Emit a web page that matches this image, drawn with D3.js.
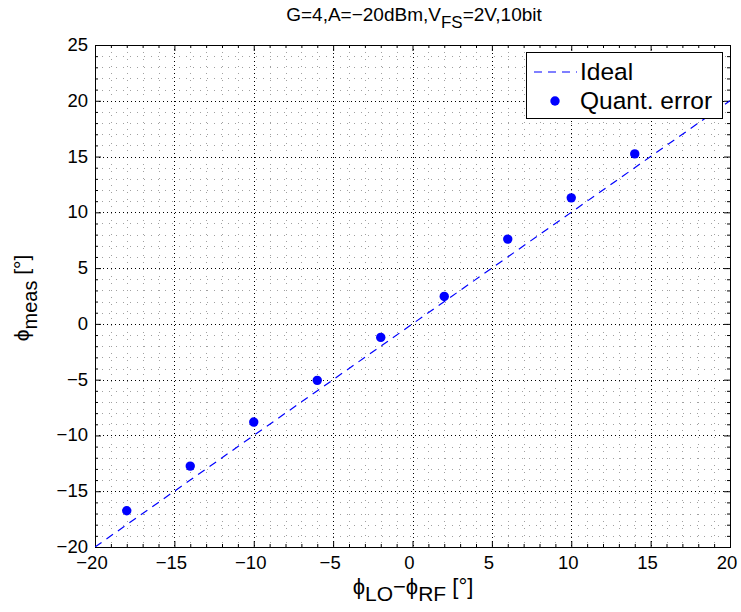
<!DOCTYPE html>
<html>
<head>
<meta charset="utf-8">
<script src="https://cdn.jsdelivr.net/npm/d3@7"></script>
<style>
  body { margin: 0; background: #fff; }
  text { font-family: "Liberation Sans", Arial, sans-serif; fill: #000; }
</style>
</head>
<body>
<div id="chart"></div>
<script>
// data
const xTicks = [-20, -15, -10, -5, 0, 5, 10, 15, 20];
const yTicks = [-20, -15, -10, -5, 0, 5, 10, 15, 20, 25];
const phaseIn = [-18, -14, -10, -6, -2, 2, 6, 10, 14];
const phaseMeas = [-16.75, -12.75, -8.8, -5.06, -1.21, 2.46, 7.6, 11.3, 15.24];
const idealX = [-20, 20];
const idealY = [-20, 20];

const width = 741, height = 612;
const pL = 95, pR = 730, pT = 45, pB = 547;

const svg = d3.select('#chart').append('svg')
    .attr('width', width)
    .attr('height', height);

const x = d3.scaleLinear().domain([-20, 20]).range([pL, pR]);
const y = d3.scaleLinear().domain([-20, 25]).range([pB, pT]);

const minorX = d3.range(-20, 21, 1).filter(v => v % 5 !== 0);
const minorY = d3.range(-20, 26, 1).filter(v => v % 5 !== 0);

// grid: dotted, grey for minor, black for major
function gridLines(vals, vertical, color, dash) {
  svg.append('g').selectAll('line').data(vals).enter().append('line')
    .attr('x1', d => vertical ? Math.round(x(d)) + 0.5 : pL)
    .attr('x2', d => vertical ? Math.round(x(d)) + 0.5 : pR)
    .attr('y1', d => vertical ? pT : Math.round(y(d)) + 0.5)
    .attr('y2', d => vertical ? pB : Math.round(y(d)) + 0.5)
    .attr('stroke', color).attr('stroke-width', 1)
    .attr('stroke-dasharray', dash);
}
gridLines(minorX, true, '#a0a0a0', '1,6');
gridLines(minorY, false, '#a0a0a0', '1,6');
gridLines(xTicks, true, '#000', '1,3');
gridLines(yTicks, false, '#000', '1,3');

// axes with inward ticks on all four sides
function tickSet(axis, ticks, size) {
  return axis.tickValues(ticks).tickSize(size).tickFormat('');
}
const fmt = d => d < 0 ? '\u2212' + Math.abs(d) : String(d);

svg.append('g').attr('transform', `translate(0,${pB})`)
    .call(tickSet(d3.axisTop(x), xTicks, 6));
svg.append('g').attr('transform', `translate(0,${pB})`)
    .call(tickSet(d3.axisTop(x), minorX, 3));
svg.append('g').attr('transform', `translate(0,${pT})`)
    .call(tickSet(d3.axisBottom(x), xTicks, 6));
svg.append('g').attr('transform', `translate(0,${pT})`)
    .call(tickSet(d3.axisBottom(x), minorX, 3));
svg.append('g').attr('transform', `translate(${pL},0)`)
    .call(tickSet(d3.axisRight(y), yTicks, 6));
svg.append('g').attr('transform', `translate(${pL},0)`)
    .call(tickSet(d3.axisRight(y), minorY, 3));
svg.append('g').attr('transform', `translate(${pR},0)`)
    .call(tickSet(d3.axisLeft(y), yTicks, 6));
svg.append('g').attr('transform', `translate(${pR},0)`)
    .call(tickSet(d3.axisLeft(y), minorY, 3));
svg.selectAll('.domain').remove();
svg.selectAll('.tick line').attr('stroke', '#000');

svg.append('rect')
    .attr('x', pL + 0.5).attr('y', pT + 0.5)
    .attr('width', pR - pL).attr('height', pB - pT)
    .attr('fill', 'none').attr('stroke', '#000').attr('stroke-width', 1);

// tick labels
svg.append('g').selectAll('text').data(xTicks).enter().append('text')
    .attr('x', d => x(d) - 3).attr('y', pB + 22)
    .attr('text-anchor', 'middle').attr('font-size', 18.5)
    .text(fmt);
svg.append('g').selectAll('text').data(yTicks).enter().append('text')
    .attr('x', pL - 7).attr('y', d => y(d) + 6)
    .attr('text-anchor', 'end').attr('font-size', 18.5)
    .text(fmt);

// ideal line and measured points
svg.append('clipPath').attr('id', 'plot')
  .append('rect').attr('x', pL).attr('y', pT)
  .attr('width', pR - pL).attr('height', pB - pT);

svg.append('path')
    .datum(idealX.map((v, i) => [v, idealY[i]]))
    .attr('clip-path', 'url(#plot)')
    .attr('d', d3.line().x(d => x(d[0])).y(d => y(d[1])))
    .attr('fill', 'none').attr('stroke', '#0000ff')
    .attr('stroke-width', 1.2).attr('stroke-dasharray', '8,6');

svg.append('g').selectAll('circle').data(phaseIn).enter().append('circle')
    .attr('cx', d => x(d)).attr('cy', (d, i) => y(phaseMeas[i]))
    .attr('r', 4.7).attr('fill', '#0000ff');

// legend
const lg = svg.append('g');
lg.append('rect').attr('x', 526.5).attr('y', 52.5).attr('width', 196).attr('height', 66)
    .attr('fill', '#fff').attr('stroke', '#000');
lg.append('line').attr('x1', 534).attr('x2', 577).attr('y1', 72).attr('y2', 72)
    .attr('stroke', '#0000ff').attr('stroke-width', 1.2).attr('stroke-dasharray', '8,6');
lg.append('text').attr('x', 580).attr('y', 80).attr('font-size', 24.5).text('Ideal');
lg.append('circle').attr('cx', 555).attr('cy', 101).attr('r', 4.7).attr('fill', '#0000ff');
lg.append('text').attr('x', 580).attr('y', 109).attr('font-size', 24.5).text('Quant. error');

// title
const t = svg.append('text').attr('x', 414).attr('y', 21)
    .attr('text-anchor', 'middle').attr('font-size', 19);
t.append('tspan').text('G=4,A=\u221220dBm,V');
t.append('tspan').attr('dy', 7).attr('font-size', 17).text('FS');
t.append('tspan').attr('dy', -7).text('=2V,10bit');

// x label
const xl = svg.append('text').attr('x', 413).attr('y', 594)
    .attr('text-anchor', 'middle').attr('font-size', 22);
xl.append('tspan').text('\u03d5');
xl.append('tspan').attr('dy', 7).attr('font-size', 21).text('LO');
xl.append('tspan').attr('dy', -7).text('\u2212\u03d5');
xl.append('tspan').attr('dy', 7).attr('font-size', 21).text('RF');
xl.append('tspan').attr('dy', -7).text(' [\u00b0]');

// y label
const yl = svg.append('text')
    .attr('transform', 'translate(29,298) rotate(-90)')
    .attr('text-anchor', 'middle').attr('font-size', 21);
yl.append('tspan').text('\u03d5');
yl.append('tspan').attr('dy', 8).attr('font-size', 20).text('meas');
yl.append('tspan').attr('dy', -8).text(' [\u00b0]');
</script>
</body>
</html>
